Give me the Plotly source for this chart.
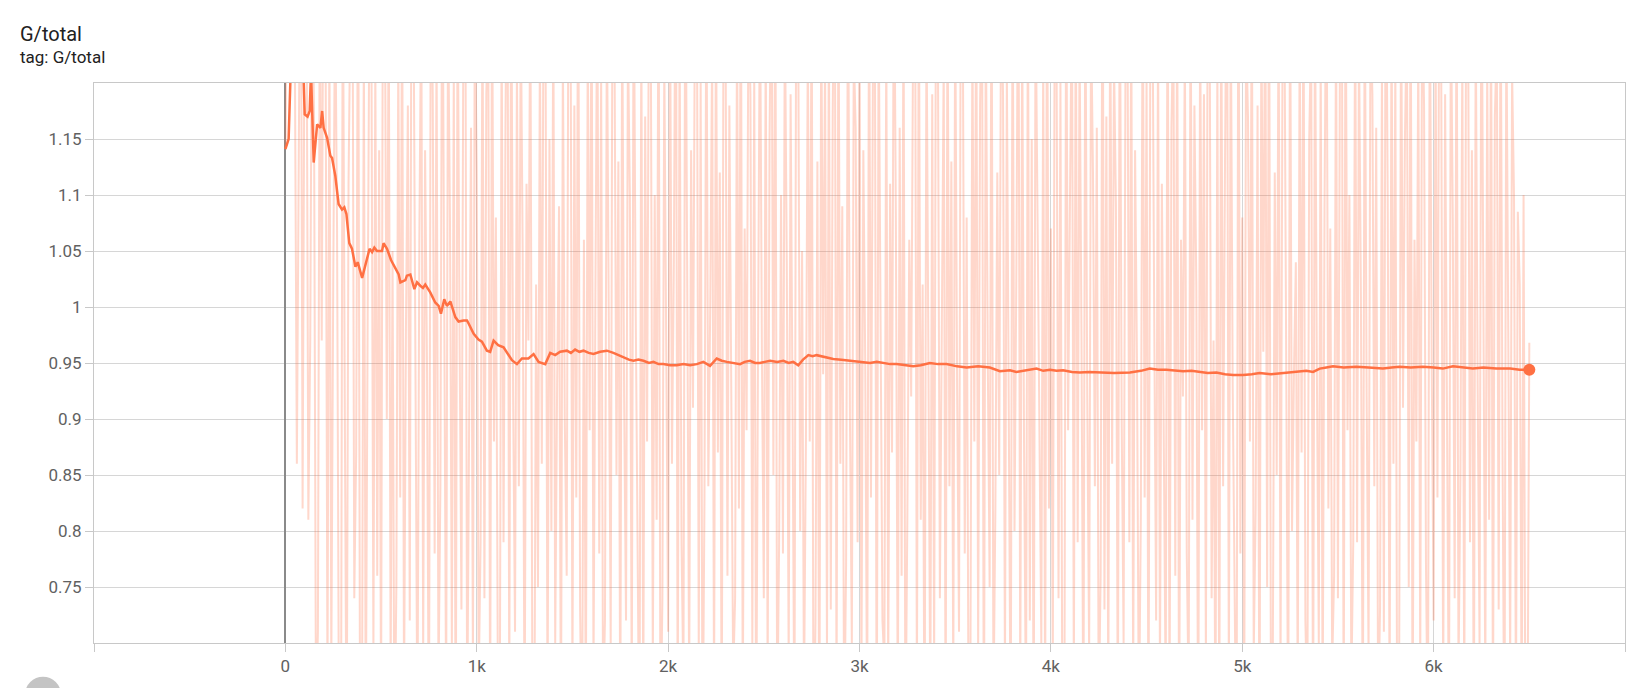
import numpy as np
import plotly.graph_objects as go

# ---------------- data ----------------
title_text = "G/total"
tag_text = "tag: G/total"

x_tick_vals = [-1000, 0, 1000, 2000, 3000, 4000, 5000, 6000, 7000]
x_tick_text = ["", "0", "1k", "2k", "3k", "4k", "5k", "6k", ""]
y_tick_vals = [0.75, 0.8, 0.85, 0.9, 0.95, 1.0, 1.05, 1.1, 1.15]
y_tick_text = ["0.75", "0.8", "0.85", "0.9", "0.95", "1", "1.05", "1.1", "1.15"]

# raw G/total values, one every 10 steps (0 .. 6500)
raw_a = [1.141, 1.38, 1.52, 1.47, 1.29, 1.21, 0.86, 1.12, 1.41, 0.82,
         1.27, 1.33, 0.81, 0.97, 1.34, 1.16, 0.63, 0.71, 1.31, 0.97,
         1.41, 1.25, 0.66, 1.25, 0.68, 1.02, 1.29, 1.07, 0.62, 0.55,
         1.33, 0.93, 0.58, 1.11, 1.27, 1.36, 0.74, 0.87, 1.36, 0.64,
         0.60, 1.24, 0.61, 0.99, 1.30, 1.22, 0.69, 1.22, 0.76, 1.14]
raw_b = [0.63, 1.35, 1.28, 0.90, 1.28, 0.67, 1.05, 0.59, 0.75, 1.23,
         0.83, 1.31, 0.65, 0.98, 1.18, 0.72, 1.40, 1.26, 0.88, 0.61,
         1.06, 1.29, 0.69, 1.14, 0.95, 0.58, 1.32, 1.19, 0.78, 1.24,
         0.66, 0.84, 1.37, 0.92, 0.64, 1.27, 1.08, 0.70, 1.21, 0.57,
         1.30, 0.98, 0.73, 1.25, 1.34, 0.62, 0.87, 1.16, 0.68, 1.28]
raw_c = [1.12, 0.66, 0.79, 1.29, 0.74, 1.19, 1.26, 0.62, 1.32, 0.88,
         1.08, 0.68, 0.60, 1.26, 0.79, 1.16, 1.38, 0.64, 1.34, 0.92,
         0.71, 1.22, 0.84, 1.27, 1.05, 0.61, 1.11, 0.97, 1.30, 0.69,
         0.56, 1.02, 0.75, 1.24, 0.86, 1.33, 1.21, 0.63, 1.15, 0.80,
         1.28, 0.70, 0.93, 1.09, 0.60, 1.23, 0.90, 0.76, 1.36, 1.29]
raw_d = [0.66, 1.18, 0.83, 1.35, 0.73, 0.59, 1.06, 0.62, 1.25, 0.89,
         1.31, 0.67, 1.01, 1.31, 0.78, 1.21, 0.64, 0.72, 1.27, 0.95,
         0.70, 1.36, 1.23, 0.85, 1.13, 0.61, 1.28, 0.92, 0.72, 1.24,
         1.10, 0.65, 1.33, 1.01, 0.77, 0.58, 1.26, 0.63, 1.17, 0.88,
         1.30, 1.22, 0.68, 1.10, 0.81, 1.34, 0.60, 0.74, 1.22, 0.94]
raw_e = [0.71, 1.29, 0.86, 1.04, 1.39, 0.62, 1.25, 0.79, 0.66, 1.37,
         0.96, 0.66, 1.14, 0.91, 1.27, 1.31, 0.69, 1.20, 0.58, 0.83,
         1.31, 0.84, 1.00, 1.23, 0.64, 1.29, 0.87, 1.12, 0.60, 1.32,
         1.26, 0.76, 1.18, 0.93, 0.67, 0.74, 1.26, 0.82, 1.35, 0.63,
         1.07, 0.89, 1.28, 1.19, 0.70, 1.21, 0.59, 0.97, 1.30, 0.96]
raw_f = [0.74, 1.25, 0.66, 1.15, 1.33, 0.85, 1.33, 0.62, 0.79, 1.10,
         0.78, 1.27, 1.04, 0.68, 1.19, 0.91, 0.61, 1.36, 1.24, 0.80,
         1.05, 0.65, 0.88, 1.24, 0.88, 1.31, 0.57, 0.72, 1.13, 0.57,
         1.28, 0.94, 1.22, 0.69, 1.26, 0.73, 1.17, 1.38, 0.64, 1.30,
         0.86, 1.09, 0.61, 0.77, 1.34, 0.90, 0.70, 1.23, 1.16, 0.79]
raw_g = [1.28, 0.66, 1.14, 0.95, 0.62, 1.32, 0.83, 1.20, 1.27, 0.59,
         1.27, 0.99, 0.72, 0.68, 1.25, 0.67, 1.11, 0.87, 1.35, 1.08,
         0.63, 1.16, 0.76, 1.29, 0.60, 0.81, 1.06, 0.92, 1.24, 1.33,
         0.65, 1.31, 0.81, 1.02, 0.58, 1.27, 0.89, 0.64, 1.19, 0.68,
         1.33, 1.22, 0.74, 0.97, 1.22, 0.61, 1.30, 0.84, 1.13, 0.66]
raw_h = [1.28, 0.93, 0.71, 1.36, 1.25, 0.78, 1.08, 0.62, 0.70, 1.25,
         0.88, 1.31, 0.69, 1.18, 1.30, 0.57, 1.27, 0.96, 0.75, 1.34,
         0.64, 0.82, 1.12, 0.85, 1.29, 1.19, 0.67, 1.21, 0.90, 0.60,
         1.32, 0.80, 1.04, 1.37, 0.65, 1.26, 0.87, 0.63, 1.30, 0.72,
         1.15, 0.59, 1.28, 1.07, 0.94, 0.70, 1.23, 0.63, 1.35, 0.82]
raw_i = [1.07, 0.68, 1.27, 1.21, 0.74, 1.20, 0.62, 0.58, 1.33, 0.89,
         1.10, 1.29, 0.66, 1.29, 0.79, 1.24, 0.97, 0.60, 1.31, 0.92,
         0.69, 1.26, 1.12, 0.84, 1.16, 0.63, 0.76, 1.38, 0.73, 1.17,
         0.64, 1.30, 0.86, 1.22, 1.09, 0.61, 1.34, 0.90, 0.70, 1.23,
         1.28, 0.79, 1.28, 0.66, 1.14, 0.95, 0.62, 0.81, 1.32, 0.83]
raw_j = [1.20, 0.59, 1.27, 1.31, 0.99, 0.72, 1.25, 0.67, 1.11, 0.87,
         0.65, 1.35, 0.63, 1.16, 1.26, 0.76, 1.29, 0.60, 1.06, 0.92,
         1.24, 0.78, 0.65, 1.31, 0.81, 1.18, 1.02, 0.58, 1.27, 0.89,
         1.19, 0.68, 1.33, 1.24, 0.74, 0.97, 0.61, 1.22, 0.61, 1.30,
         0.84, 1.13, 1.36, 0.66, 1.28, 0.93, 0.71, 0.57, 1.36, 0.78]
raw_k = [1.08, 0.62, 1.25, 1.17, 0.88, 1.31, 0.69, 0.82, 1.18, 0.57,
         1.27, 0.96, 1.32, 0.75, 1.34, 0.64, 0.70, 1.12, 0.85, 1.29,
         0.67, 1.21, 1.28, 0.90, 0.60, 1.32, 0.80, 0.94, 1.04, 0.65,
         1.26, 0.87, 1.30, 0.72, 0.63, 1.15, 1.25, 0.59, 1.28, 0.94,
         0.70, 1.23, 0.63, 1.09, 1.35, 0.82, 1.07, 0.68, 0.76, 1.27]
raw_l = [0.74, 1.20, 1.33, 0.62, 1.33, 0.89, 1.10, 0.66, 0.79, 1.29,
         0.79, 1.24, 1.01, 0.60, 1.31, 0.92, 0.69, 1.26, 1.19, 0.84,
         1.16, 0.63, 0.73, 1.21, 0.71, 1.37, 1.10, 0.64, 1.27, 0.86,
         1.22, 0.58, 0.68, 1.30, 0.91, 1.15, 1.26, 0.75, 1.33, 0.61,
         1.06, 0.88, 1.24, 0.67, 1.29, 1.18, 0.77, 0.60, 1.31, 0.95]
raw_m = [0.72, 1.25, 0.83, 1.34, 1.20, 0.65, 1.19, 0.90, 0.61, 1.28,
         1.08, 0.74, 1.32, 0.67, 0.85, 1.23, 0.63, 1.30, 1.27, 0.79,
         1.14, 0.59, 1.26, 0.93, 0.70, 1.35, 1.05, 0.66, 1.22, 0.81,
         1.29, 0.62, 1.17, 1.24, 0.73, 1.31, 0.87, 0.58, 1.27, 0.98,
         0.68, 1.21, 1.10, 0.64, 1.085, 1.02, 0.63, 1.10, 0.58, 0.60,
         0.968]

smooth_steps = [0, 17, 40, 70, 95, 101, 116, 127, 134, 148, 166, 183, 192, 200,
                218, 235, 244, 261, 278, 296, 308, 319, 334, 348, 366, 378,
                401, 427, 440, 453, 465, 479, 505, 513, 531, 552, 574, 592,
                601, 627, 635, 653, 674, 688, 705, 719, 731, 757, 783, 801,
                813, 830, 844, 862, 888, 905, 931, 949, 958, 984, 1009, 1027,
                1053, 1070, 1088, 1112, 1140, 1184, 1210, 1236, 1270, 1297,
                1323, 1358, 1384, 1410, 1436, 1471, 1492, 1514, 1536, 1558,
                1585, 1610, 1645, 1680, 1714, 1740, 1767, 1795, 1819, 1845,
                1871, 1900, 1923, 1950, 1975, 2010, 2045, 2080, 2115, 2150,
                2184, 2219, 2254, 2280, 2307, 2340, 2376, 2400, 2428, 2455,
                2480, 2505, 2533, 2570, 2602, 2630, 2654, 2680, 2705, 2733,
                2755, 2776, 2820, 2863, 2905, 2950, 3000, 3055, 3090, 3124,
                3160, 3194, 3240, 3281, 3320, 3368, 3410, 3455, 3510, 3560,
                3620, 3681, 3734, 3786, 3820, 3855, 3890, 3925, 3960, 3995,
                4030, 4064, 4110, 4151, 4200, 4256, 4330, 4413, 4470, 4517,
                4560, 4604, 4650, 4691, 4735, 4778, 4820, 4865, 4910, 4952,
                5004, 5050, 5091, 5150, 5213, 5260, 5300, 5335, 5370, 5405,
                5440, 5474, 5530, 5596, 5660, 5735, 5780, 5822, 5880, 5944,
                6000, 6048, 6101, 6150, 6205, 6260, 6327, 6400, 6450, 6500]
smooth_vals = [1.141, 1.150, 1.280, 1.270, 1.205, 1.172, 1.170, 1.175, 1.210,
               1.129, 1.163, 1.160, 1.175, 1.160, 1.151, 1.135, 1.133, 1.117,
               1.092, 1.087, 1.089, 1.083, 1.057, 1.052, 1.036, 1.040, 1.026,
               1.045, 1.052, 1.049, 1.053, 1.050, 1.050, 1.057, 1.052, 1.042,
               1.035, 1.029, 1.022, 1.024, 1.028, 1.029, 1.016, 1.022, 1.019,
               1.017, 1.020, 1.013, 1.004, 1.001, 0.994, 1.007, 1.001, 1.005,
               0.991, 0.987, 0.988, 0.988, 0.985, 0.976, 0.971, 0.969, 0.961,
               0.960, 0.970, 0.966, 0.964, 0.9525, 0.949, 0.954, 0.954, 0.958,
               0.951, 0.949, 0.959, 0.957, 0.960, 0.961, 0.959, 0.962, 0.960,
               0.961, 0.959, 0.958, 0.960, 0.961, 0.959, 0.957, 0.955, 0.953,
               0.952, 0.953, 0.952, 0.950, 0.951, 0.949, 0.949, 0.948, 0.948,
               0.949, 0.948, 0.949, 0.951, 0.9475, 0.954, 0.952, 0.951, 0.950,
               0.949, 0.951, 0.952, 0.950, 0.950, 0.951, 0.952, 0.951, 0.952,
               0.950, 0.951, 0.948, 0.953, 0.957, 0.956, 0.957, 0.955, 0.9535,
               0.953, 0.952, 0.951, 0.950, 0.951, 0.950, 0.949, 0.949, 0.948,
               0.947, 0.948, 0.950, 0.949, 0.949, 0.947, 0.946, 0.947, 0.946,
               0.9426, 0.9436, 0.942, 0.943, 0.944, 0.945, 0.943, 0.944, 0.943,
               0.9436, 0.942, 0.9416, 0.942, 0.9416, 0.941, 0.9416, 0.943,
               0.945, 0.944, 0.944, 0.943, 0.9426, 0.943, 0.942, 0.941, 0.9416,
               0.940, 0.9393, 0.9393, 0.940, 0.941, 0.940, 0.941, 0.942, 0.9426,
               0.943, 0.942, 0.945, 0.946, 0.947, 0.946, 0.9466, 0.946, 0.945,
               0.946, 0.9466, 0.946, 0.9466, 0.946, 0.945, 0.947, 0.946, 0.945,
               0.946, 0.945, 0.945, 0.944, 0.944]

# ---------------- figure ----------------
raw_vals = (raw_a + raw_b + raw_c + raw_d + raw_e + raw_f + raw_g + raw_h +
            raw_i + raw_j + raw_k + raw_l + raw_m)
raw_steps = np.linspace(0, 6500, len(raw_vals))

ORANGE = "#ff7043"
W, H = 1647, 688
L, R, T, B = 94, 22, 83, 40
pw, ph = W - L - R, H - T - B

def px(xp):
    return (xp - L) / pw

def py(yp):
    return (H - B - yp) / ph

fig = go.Figure()
fig.add_trace(go.Scatter(
    x=raw_steps, y=raw_vals, mode="lines",
    line=dict(color="rgba(255,112,67,0.28)", width=2),
    hoverinfo="skip", showlegend=False))
fig.add_trace(go.Scatter(
    x=smooth_steps, y=smooth_vals, mode="lines",
    line=dict(color=ORANGE, width=2.5),
    hoverinfo="skip", showlegend=False))
fig.add_trace(go.Scatter(
    x=[smooth_steps[-1]], y=[smooth_vals[-1]], mode="markers",
    marker=dict(color=ORANGE, size=12),
    hoverinfo="skip", showlegend=False))

axis_common = dict(
    showgrid=True, gridcolor="#d6d6d6", gridwidth=1,
    showline=True, linecolor="#c8c8c8", linewidth=1, mirror=True,
    ticks="outside", ticklen=8, tickcolor="#c8c8c8", tickwidth=1,
    tickfont=dict(family="Roboto", size=17, color="#616161"),
    fixedrange=True,
)

fig.update_layout(
    width=W, height=H,
    margin=dict(l=L, r=R, t=T, b=B, pad=0),
    paper_bgcolor="white", plot_bgcolor="white",
    xaxis=dict(range=[-1000, 7000], tickvals=x_tick_vals, ticktext=x_tick_text,
               zeroline=True, zerolinecolor="#8a8a8a", zerolinewidth=2,
               **axis_common),
    yaxis=dict(range=[0.7, 1.2], tickvals=y_tick_vals, ticktext=y_tick_text,
               zeroline=False, **axis_common),
    annotations=[
        dict(text=title_text, xref="paper", yref="paper", x=px(18), y=py(33.5),
             xanchor="left", yanchor="middle", showarrow=False,
             font=dict(family="Roboto", size=20, color="#212121")),
        dict(text=tag_text, xref="paper", yref="paper", x=px(18), y=py(56.5),
             xanchor="left", yanchor="middle", showarrow=False,
             font=dict(family="Roboto", size=17, color="#212121")),
    ],
    shapes=[
        dict(type="circle", xref="paper", yref="paper",
             x0=px(25), x1=px(61), y0=py(718), y1=py(682),
             fillcolor="#c4c4c4", line=dict(width=0), layer="above"),
    ],
)

fig.write_html("out.html", config={"displayModeBar": False})
